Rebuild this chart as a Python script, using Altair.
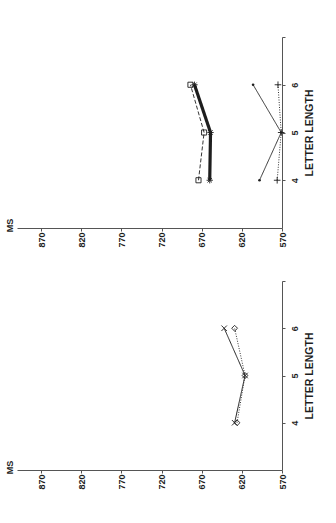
import altair as alt
import pandas as pd

letter_length = [4, 5, 6]

# top panel series (MS)
top_square_ms = [674, 667, 684]
top_star_ms = [660, 659, 679]
top_dot_ms = [598, 571, 606]
top_plus_ms = [576, 571, 575]

# bottom panel series (MS)
bottom_x_ms = [629, 616, 642]
bottom_diamond_ms = [626, 616, 629]

ms_ticks = [570, 620, 670, 720, 770, 820, 870]
len_ticks = [4, 5, 6, 7]

ASTERISK = "M-1,0L1,0M0,-1L0,1M-0.7,-0.7L0.7,0.7M-0.7,0.7L0.7,-0.7"
PLUS = "M-1,0L1,0M0,-1L0,1"
XMARK = "M-1,-1L1,1M-1,1L1,-1"

INK = "#1e1e1e"
FONT = "Liberation Sans"

series_specs = {
    "square": dict(shape="square", size=26, dash=[4, 2], width=0.9, filled=False),
    "star": dict(shape=ASTERISK, size=40, dash=[1, 0], width=3.2, filled=False),
    "dot": dict(shape="circle", size=7, dash=[1, 0], width=0.9, filled=True),
    "plus": dict(shape=PLUS, size=44, dash=[1, 1.5], width=0.9, filled=False),
    "x": dict(shape=XMARK, size=30, dash=[1, 0], width=1.0, filled=False),
    "diamond": dict(shape="diamond", size=34, dash=[1, 1.5], width=0.9, filled=False),
}


def make_df(pairs):
    rows = []
    for name, values in pairs:
        for l, v in zip(letter_length, values):
            rows.append({"series": name, "len": l, "ms": v})
    return pd.DataFrame(rows)


top_df = make_df([("square", top_square_ms), ("star", top_star_ms),
                  ("dot", top_dot_ms), ("plus", top_plus_ms)])
bottom_df = make_df([("x", bottom_x_ms), ("diamond", bottom_diamond_ms)])

W = 265


def panel(df, names, H):
    x_enc = alt.X(
        "ms:Q",
        scale=alt.Scale(domain=[570, 900], reverse=True, nice=False, zero=False),
        axis=alt.Axis(
            values=ms_ticks, grid=False, tickSize=3, labelPadding=1,
            labelAngle=270, labelAlign="right", labelBaseline="middle",
            labelFont=FONT, labelFontSize=9, labelFontWeight="bold",
            labelColor=INK, domainColor="#555", tickColor="#555",
            title="MS", titleAngle=270, titleX=-8, titleY=-3,
            titleAlign="center", titleBaseline="middle",
            titleFont=FONT, titleFontSize=9, titleFontWeight="bold",
            titleColor=INK,
        ),
    )
    y_enc = alt.Y(
        "len:Q",
        scale=alt.Scale(domain=[3, 7], nice=False, zero=False),
        axis=alt.Axis(
            orient="right", values=len_ticks, grid=False, tickSize=3,
            labelPadding=5, labelAngle=270, labelAlign="center",
            labelBaseline="top", labelExpr="datum.value == 7 ? '' : datum.label",
            labelFont=FONT, labelFontSize=9, labelFontWeight="bold",
            labelColor=INK, domainColor="#555", tickColor="#555",
            title="LETTER LENGTH", titleAngle=270, titleX=22, titleY=H / 2,
            titleAlign="center", titleBaseline="top",
            titleFont=FONT, titleFontSize=10.5, titleFontWeight="bold",
            titleColor=INK,
        ),
    )
    layers = []
    for name in names:
        s = series_specs[name]
        base = alt.Chart(df).transform_filter(alt.datum.series == name)
        layers.append(
            base.mark_line(color=INK, strokeWidth=s["width"], strokeDash=s["dash"])
            .encode(x=x_enc, y=y_enc, order="len:Q")
        )
        layers.append(
            base.mark_point(shape=s["shape"], size=s["size"], filled=s["filled"],
                            color=INK, strokeWidth=0.9, opacity=1)
            .encode(x=x_enc, y=y_enc)
        )
    return alt.layer(*layers).properties(width=W, height=H)


top = panel(top_df, ["square", "star", "dot", "plus"], 191)
bottom = panel(bottom_df, ["x", "diamond"], 189)

chart = (
    alt.vconcat(top, bottom, spacing=53)
    .properties(bounds="flush", padding={"left": 4, "top": 36, "right": 5, "bottom": 5},
                background="white")
    .configure_view(stroke=None)
)

chart.save("out.html", embed_options={"renderer": "svg", "actions": False})
